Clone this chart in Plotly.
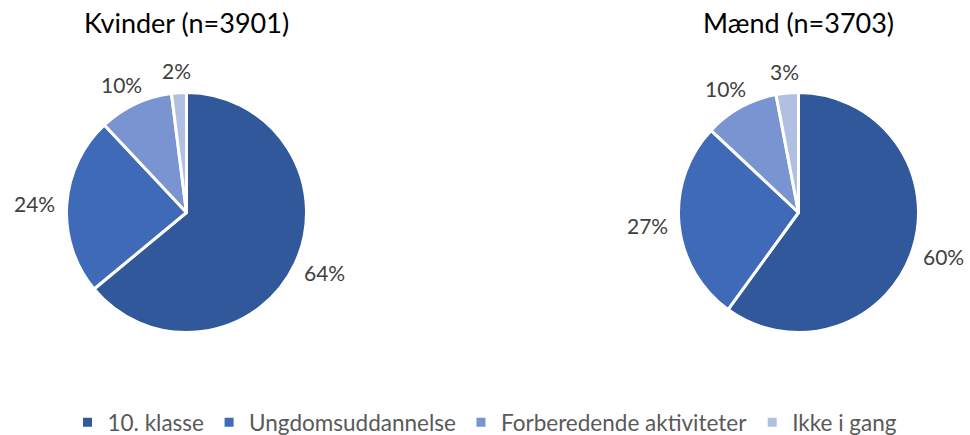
import math
import plotly.graph_objects as go

# ---- data ----
categories = ["10. klasse", "Ungdomsuddannelse", "Forberedende aktiviteter", "Ikke i gang"]
kvinder_values = [64, 24, 10, 2]
maend_values = [60, 27, 10, 3]
panel_titles = ["Kvinder (n=3901)", "Mænd (n=3703)"]

# ---- style ----
colors = ["#31589A", "#3F6AB8", "#7A94D1", "#B1BFE2"]
W, H = 970, 435
FONT = "Lato"
R = 118          # visible radius (px)
RD = 120         # half-size of the domain box (px)
centers = [(186.5, 212.5), (798.5, 212.5)]
LABEL_GAP = 14
HW, HH = 20, 10

fig = go.Figure()
annotations = []
for i, (vals, title, (cx, cy)) in enumerate(zip([kvinder_values, maend_values], panel_titles, centers)):
    fig.add_trace(go.Pie(
        labels=categories,
        values=vals,
        sort=False,
        direction="clockwise",
        rotation=0,
        textinfo="none",
        hoverinfo="label+percent",
        marker=dict(colors=colors, line=dict(color="white", width=3)),
        domain=dict(x=[(cx - RD) / W, (cx + RD) / W], y=[1 - (cy + RD) / H, 1 - (cy - RD) / H]),
        showlegend=(i == 0),
    ))
    total = sum(vals)
    cum = 0
    for v in vals:
        mid = (cum + v / 2) / total * 2 * math.pi
        cum += v
        dx, dy = math.sin(mid), -math.cos(mid)  # screen coords (down positive)
        px = cx + dx * (R + LABEL_GAP) + dx * HW
        py = cy + dy * (R + LABEL_GAP) + dy * HH
        annotations.append(dict(
            x=px / W, y=1 - py / H, xref="paper", yref="paper",
            text=f"{round(v / total * 100)}%", showarrow=False,
            xanchor="center", yanchor="middle",
            font=dict(family=FONT, size=21, color="#404040"),
        ))
    annotations.append(dict(
        x=cx / W, y=1 - 23 / H, xref="paper", yref="paper",
        text=title, showarrow=False, xanchor="center", yanchor="middle",
        font=dict(family=FONT, size=27, color="#000000"),
    ))

fig.update_layout(
    width=W, height=H,
    margin=dict(l=0, r=0, t=0, b=0, autoexpand=False),
    paper_bgcolor="white", plot_bgcolor="white",
    font=dict(family=FONT, color="#595959"),
    annotations=annotations,
    legend=dict(
        orientation="h", x=0.5, xanchor="center", y=-9 / H, yanchor="bottom",
        font=dict(family=FONT, size=22.5, color="#595959"),
        itemclick=False, traceorder="normal",
    ),
)

fig.write_html("out.html", config={"displayModeBar": False},
               post_script="document.body.style.margin='0';")
